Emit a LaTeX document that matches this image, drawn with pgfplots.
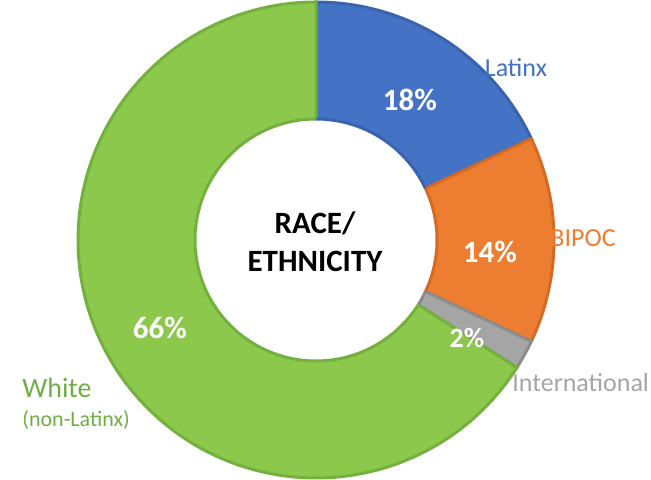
\documentclass[border=0pt]{standalone}
\usepackage{pgfplots}
\pgfplotsset{compat=1.18}
\usepackage{fontspec}
\setmainfont{Carlito}
\definecolor{cBlue}{HTML}{4472C4}
\definecolor{cBlueD}{HTML}{3A63AE}
\definecolor{cOrange}{HTML}{ED7D31}
\definecolor{cOrangeD}{HTML}{D56A22}
\definecolor{cGray}{HTML}{A5A5A5}
\definecolor{cGrayD}{HTML}{8C8C8C}
\definecolor{cGreen}{HTML}{8CC84B}
\definecolor{cGreenD}{HTML}{74B03E}
\definecolor{tGreen}{HTML}{70AD47}
% shares (percent)
\def\vLatinx{18}
\def\vBIPOC{14}
\def\vIntl{2}
\def\vWhite{66}
\pgfmathsetmacro{\aA}{90}
\pgfmathsetmacro{\aB}{\aA-3.6*\vLatinx}
\pgfmathsetmacro{\aC}{\aB-3.6*\vBIPOC}
\pgfmathsetmacro{\aD}{\aC-3.6*\vIntl}
\pgfmathsetmacro{\aE}{\aD-3.6*\vWhite}
\begin{document}
\begin{tikzpicture}
\begin{axis}[
  x=0.5pt, y=0.5pt,
  xmin=-316, xmax=335, ymin=-239, ymax=240,
  hide axis, clip=false,
]
\path (axis cs:-316,-239) rectangle (axis cs:335,240);
% wedges
\addplot[fill=cBlue, draw=cBlueD, line width=1.5pt, domain=\aB:\aA, samples=60, variable=\t] ({238*cos(\t)},{238*sin(\t)}) -- (axis cs:0,0) -- cycle;
\addplot[fill=cOrange, draw=cOrangeD, line width=1.5pt, domain=\aC:\aB, samples=60, variable=\t] ({238*cos(\t)},{238*sin(\t)}) -- (axis cs:0,0) -- cycle;
\addplot[fill=cGray, draw=cGrayD, line width=1.5pt, domain=\aD:\aC, samples=10, variable=\t] ({238*cos(\t)},{238*sin(\t)}) -- (axis cs:0,0) -- cycle;
\addplot[fill=cGreen, draw=cGreenD, line width=1.5pt, domain=\aE:\aD, samples=150, variable=\t] ({238*cos(\t)},{238*sin(\t)}) -- (axis cs:0,0) -- cycle;
% hole
\addplot[fill=white, draw=none, domain=0:360, samples=120, variable=\t] ({121*cos(\t)},{121*sin(\t)}) -- cycle;
% inner edges
\addplot[draw=cBlueD, line width=1.5pt, domain=\aB:\aA, samples=40, variable=\t] ({121*cos(\t)},{121*sin(\t)});
\addplot[draw=cOrangeD, line width=1.5pt, domain=\aC:\aB, samples=40, variable=\t] ({121*cos(\t)},{121*sin(\t)});
\addplot[draw=cGrayD, line width=1.5pt, domain=\aD:\aC, samples=10, variable=\t] ({121*cos(\t)},{121*sin(\t)});
\addplot[draw=cGreenD, line width=1.5pt, domain=\aE:\aD, samples=100, variable=\t] ({121*cos(\t)},{121*sin(\t)});
% labels
\node[font=\fontsize{15.5}{18}\selectfont\bfseries, align=center] at (axis cs:-1,-2) {RACE/\\[1pt]ETHNICITY};
\node[font=\fontsize{15.5}{18}\selectfont\bfseries, text=white] at (axis cs:94,140) {18\%};
\node[font=\fontsize{15.5}{18}\selectfont\bfseries, text=white] at (axis cs:174,-12) {14\%};
\node[font=\fontsize{14}{16}\selectfont\bfseries, text=white] at (axis cs:151,-98) {2\%};
\node[font=\fontsize{15.5}{18}\selectfont\bfseries, text=white] at (axis cs:-156,-88) {66\%};
\node[font=\fontsize{13}{15}\selectfont, text=cBlue] at (axis cs:200,172) {Latinx};
\node[font=\fontsize{13}{15}\selectfont, text=cOrange] at (axis cs:267,2) {BIPOC};
\node[font=\fontsize{13}{15}\selectfont, text=cGray, anchor=west, inner sep=0pt] at (axis cs:196,-143) {International};
\node[font=\fontsize{14}{16}\selectfont, text=tGreen, anchor=west, inner sep=0pt] at (axis cs:-294,-148) {White};
\node[font=\fontsize{11}{13}\selectfont, text=tGreen, anchor=west, inner sep=0pt] at (axis cs:-294,-180) {(non-Latinx)};
\end{axis}
\end{tikzpicture}
\end{document}
